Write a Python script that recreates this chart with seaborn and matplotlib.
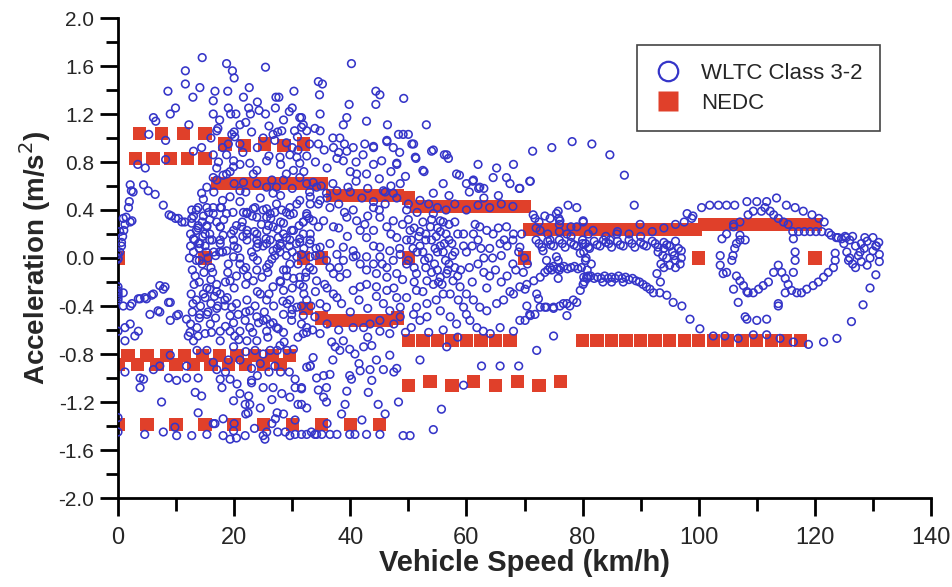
import matplotlib
matplotlib.use("Agg")
import matplotlib.pyplot as plt
from matplotlib.lines import Line2D
from matplotlib.ticker import MultipleLocator, FormatStrFormatter
import seaborn as sns
import pandas as pd

# ---------------- NEDC (speed km/h, acceleration m/s^2) ----------------
nedc_speed_pos = [3.75, 7.5, 11.25, 15, 3, 6, 9, 12, 15, 18.4, 21.8, 25.2, 28.6, 32,
                  17.2, 19.5, 21.7, 23.9, 26.1, 28.4, 30.6, 32.8, 35,
                  36.9, 38.75, 40.6, 42.5, 44.4, 46.25, 48.1, 50,
                  51.5, 53.1, 54.6, 56.2, 57.7, 59.2, 60.8, 62.3, 63.8, 65.4, 66.9, 68.5, 70]
nedc_acc_pos = [1.04, 1.04, 1.04, 1.04, 0.83, 0.83, 0.83, 0.83, 0.83, 0.95, 0.94, 0.95, 0.94, 0.95,
                0.62, 0.62, 0.62, 0.62, 0.62, 0.62, 0.62, 0.62, 0.62,
                0.52, 0.52, 0.52, 0.52, 0.52, 0.52, 0.52, 0.50,
                0.43, 0.43, 0.43, 0.43, 0.43, 0.43, 0.43, 0.43, 0.43, 0.43, 0.43, 0.43, 0.43]
nedc_speed_eudc = [70.9, 71.7, 72.6, 73.5, 74.3, 75.2, 76.1, 76.9, 77.8, 78.6, 79.5, 80.4, 81.2, 82.1,
                   83.0, 83.8, 84.7, 85.5, 86.4, 87.3, 88.1, 89.0, 89.9, 90.7, 91.6, 92.4, 93.3,
                   94.2, 95.0, 95.9, 96.8, 97.6, 98.5, 99.4,
                   101, 102, 103, 104, 105, 106, 107, 108, 109, 110, 111, 112, 113, 114, 115,
                   116, 117, 118, 119, 120]
nedc_acc_eudc = [0.24] * 34 + [0.28] * 20
nedc_speed_zero = [0, 15, 32, 35, 50, 70, 100, 120]
nedc_acc_zero = [0, 0, 0, 0, 0, 0, 0, 0]
nedc_speed_neg = [0, 3.3, 6.7, 10, 13, 16, 19, 22, 25, 28,
                  1.7, 5, 8.3, 11.5, 14.5, 17.5, 20.5, 23.5, 26.5, 29.5,
                  32.4, 35, 36.9, 38.75, 40.6, 42.5, 44.4, 46.25, 48.1,
                  50, 52.5, 55, 57.5, 60, 62.5, 65, 67.5,
                  50, 53.75, 57.5, 61.25, 65, 68.75, 72.5, 76.25,
                  80, 82.5, 85, 87.5, 90, 92.5, 95, 97.5, 100, 102.5, 105, 107.5, 110, 112.5, 115, 117.5,
                  0, 5, 10, 15, 20, 25, 30, 35, 40, 45]
nedc_acc_neg = [-0.89] * 10 + [-0.81] * 10 + \
               [-0.42, -0.50, -0.52, -0.52, -0.52, -0.52, -0.52, -0.52, -0.50] + \
               [-0.69] * 8 + \
               [-1.06, -1.03, -1.06, -1.03, -1.06, -1.03, -1.06, -1.03] + \
               [-0.69] * 16 + \
               [-1.39] * 10

# ---------------- WLTC Class 3-2 (speed km/h, acceleration m/s^2) ----------------
wltc_start = [(0, 0.03), (0, -0.01), (0.3, 0.05), (0, 0.0), (0.6, 0.10), (0.8, 0.18), (1.0, 0.23), (1.2, 0.28),
              (0.3, 0.22), (0.6, 0.13), (0.9, 0.33), (2.1, 0.30), (1.4, 0.34), (2.4, 0.31), (1.8, 0.42), (1.95, 0.47),
              (2.1, 0.61), (2.3, 0.56), (2.6, 0.55), (4.4, 0.61), (5.2, 0.56), (6.4, 0.53), (3.4, 0.78), (4.7, 0.75),
              (5.3, 1.03), (6.1, 1.17), (6.5, 1.14), (8.2, 0.98), (8.2, 0.82), (9.0, 1.20), (9.9, 1.25), (8.6, 1.39),
              (11.6, 1.56), (11.6, 1.45), (12.9, 1.34), (12.2, 1.11), (13.0, 0.89), (14.1, 1.42), (14.5, 1.67),
              (7.8, 0.44), (8.8, 0.36), (9.9, 0.33), (11.0, 0.30), (9.2, 0.35), (10.4, 0.33), (11.5, 0.30),
              (0, -0.24), (0, -0.29), (0, -0.33), (0, -0.35), (0.9, -0.29), (0, -0.27), (0, -0.31), (0.9, -0.40),
              (2.1, -0.40), (3.5, -0.34), (4.6, -0.33), (5.8, -0.31), (7.2, -0.23), (7.8, -0.26), (2.4, -0.38),
              (3.8, -0.34), (4.9, -0.34), (6.1, -0.30), (8.1, -0.24), (9.0, -0.37), (5.5, -0.47), (6.9, -0.44),
              (9.0, -0.52), (10.4, -0.47), (11.8, -0.51), (7.2, -0.45), (8.7, -0.37), (10.1, -0.48),
              (0, -0.61), (1.2, -0.58), (2.1, -0.55), (2.9, -0.65), (3.5, -0.61), (1.2, -0.69), (1.2, -0.95),
              (3.8, -1.00), (4.4, -1.01), (3.8, -1.08), (7.5, -1.20), (8.7, -1.00), (10.1, -1.02), (11.8, -1.00),
              (13.8, -1.00), (13.3, -1.12), (14.4, -1.15), (13.8, -1.29), (0, -1.33), (0, -1.45), (4.6, -1.47),
              (7.8, -1.45), (9.8, -1.41), (10.1, -1.48), (12.7, -1.48), (15.3, -1.47), (16.4, -1.38),
              (9.0, -0.81), (6.1, -0.93), (7.2, -0.90), (11.8, -0.90), (13.0, -0.69), (13.6, -0.77),
              (15.3, -0.77), (16.4, -0.87)]

wltc_low_top = [(18.7, 1.62), (19.7, 1.56), (20.0, 1.50), (25.4, 1.59), (18.9, 1.39), (16.7, 1.39), (16.4, 1.31),
                (22.6, 1.42), (21.6, 1.34), (27.2, 1.34), (27.7, 1.34), (30.3, 1.39), (30.0, 1.25), (27.1, 1.25),
                (16.4, 1.20), (19.4, 1.20), (20.3, 1.20), (22.8, 1.20), (24.3, 1.23), (25.4, 1.20), (31.6, 1.17),
                (21.0, 1.11), (17.2, 1.08), (17.0, 1.06), (19.6, 1.03), (20.1, 1.01), (28.2, 1.06), (26.7, 1.03),
                (30.4, 1.06), (31.6, 1.09), (30.9, 1.01), (14.4, 0.92), (22.5, 1.25), (24.0, 1.30), (26.0, 1.10),
                (28.5, 1.15), (19.0, 1.25), (17.5, 1.15), (23.0, 1.05), (25.0, 1.00), (21.0, 0.95), (18.0, 0.92),
                (27.0, 0.98), (29.0, 0.96), (20.0, 1.05), (16.0, 1.00), (29.5, 1.22), (27.5, 1.05), (22.0, 1.13),
                (16.4, 0.86), (17.3, 0.80), (18.7, 0.86), (19.9, 0.81), (21.0, 0.78), (19.3, 0.72), (18.1, 0.69),
                (16.4, 0.67), (15.3, 0.59), (14.4, 0.54), (14.7, 0.49), (17.0, 0.65), (18.7, 0.70), (19.9, 0.76),
                (22.7, 0.79), (23.9, 0.73), (23.3, 0.70), (21.6, 0.63), (21.0, 0.56), (25.6, 0.81), (27.9, 0.84),
                (29.6, 0.86), (30.8, 0.84), (31.3, 0.79), (30.2, 0.73), (29.0, 0.70), (28.5, 0.65), (27.3, 0.59),
                (26.7, 0.54), (31.3, 0.67), (33.6, 0.63), (34.2, 0.59), (23.9, 0.62), (25.6, 0.59), (19.3, 0.51),
                (21.0, 0.47), (22.2, 0.37), (23.3, 0.41), (25.0, 0.40), (26.2, 0.37), (27.3, 0.45), (29.0, 0.38),
                (30.2, 0.37), (31.3, 0.48), (33.1, 0.45), (33.6, 0.31), (31.9, 0.30), (30.2, 0.23), (28.5, 0.20),
                (25.6, 0.23), (23.9, 0.20), (22.2, 0.23), (19.9, 0.23), (17.6, 0.26), (15.3, 0.26), (13.5, 0.23),
                (13.0, 0.16), (14.1, 0.12), (15.8, 0.15), (17.6, 0.15), (19.9, 0.15), (22.2, 0.15), (23.9, 0.15),
                (26.2, 0.15), (27.9, 0.12), (29.6, 0.15), (31.3, 0.16), (33.1, 0.20), (34.5, 0.26), (16.4, 0.37),
                (17.8, 0.42), (15.3, 0.42), (13.5, 0.40), (12.7, 0.33)]

wltc_low_mid = [(12.7, 0.40), (13.8, 0.42), (14.7, 0.35), (12.7, 0.29), (13.8, 0.27), (15.3, 0.27), (16.4, 0.42),
                (17.6, 0.42), (18.7, 0.37), (17.0, 0.30), (17.6, 0.26), (15.8, 0.20), (18.1, 0.19), (20.4, 0.27),
                (21.3, 0.26), (22.2, 0.20), (23.6, 0.42), (25.6, 0.41), (23.9, 0.34), (25.6, 0.34), (21.6, 0.38),
                (22.2, 0.38), (27.0, 0.38), (28.2, 0.40), (29.6, 0.42), (30.8, 0.45), (25.9, 0.27), (26.7, 0.26),
                (27.6, 0.17), (29.0, 0.17), (28.5, 0.29), (29.9, 0.23), (31.9, 0.30), (31.9, 0.20), (31.3, 0.13),
                (32.5, 0.35),
                (17.6, 0.12), (18.7, 0.06), (19.9, 0.01), (21.0, -0.05), (21.6, -0.10), (20.4, -0.15), (19.3, -0.19),
                (17.0, -0.22), (15.8, -0.26), (17.6, -0.30), (18.4, -0.35), (19.6, -0.41), (20.7, -0.47),
                (21.9, -0.52), (22.2, -0.35), (22.7, -0.44), (23.9, -0.49), (25.0, -0.52), (26.2, -0.55),
                (27.3, -0.58), (24.5, -0.30), (25.6, -0.35), (26.7, -0.24), (27.9, -0.19), (28.5, -0.10),
                (29.6, -0.05), (30.8, 0.01), (31.6, 0.03), (23.9, -0.10), (24.8, -0.16), (25.6, -0.08),
                (26.5, -0.01), (26.7, 0.06), (25.6, 0.12), (23.9, 0.09), (23.3, 0.01), (23.3, -0.19), (27.9, 0.05),
                (29.0, 0.02), (30.2, -0.17), (31.3, -0.16), (31.9, -0.24), (28.5, -0.27), (29.6, -0.35),
                (30.8, -0.41), (31.9, -0.48), (32.5, -0.58), (28.5, -0.47), (29.9, -0.52),
                (12.5, 0.10), (13.0, 0.05), (13.5, -0.02), (14.0, 0.08), (14.5, -0.05), (15.0, 0.10), (15.5, 0.00),
                (16.0, -0.08), (16.5, 0.05), (12.8, -0.10), (13.3, -0.15), (14.0, -0.20), (14.8, -0.12),
                (15.3, -0.25), (16.0, -0.18), (12.5, 0.20), (13.8, 0.25), (15.0, 0.20), (16.2, 0.15),
                (12.6, -0.30), (13.5, -0.35), (14.2, -0.40), (15.0, -0.33), (16.0, -0.38), (12.8, -0.45),
                (14.0, -0.50), (15.5, -0.45), (13.0, 0.35), (14.5, 0.30), (16.8, 0.02), (17.0, -0.28),
                (12.3, 0.00), (13.9, 0.12), (15.8, 0.32), (14.6, 0.18), (13.1, -0.22), (15.9, -0.55), (12.5, -0.55),
                (18.0, 0.05), (19.0, -0.05), (20.0, 0.10), (21.0, 0.00), (22.0, -0.08), (23.0, 0.05), (24.0, -0.02),
                (25.0, 0.10), (26.0, -0.05), (27.0, 0.02), (28.0, 0.10), (29.0, -0.10), (30.0, 0.05), (31.0, -0.05),
                (32.0, 0.08), (33.0, -0.08), (34.0, 0.02), (18.5, -0.20), (20.0, -0.25), (22.0, -0.22),
                (24.0, -0.28), (26.0, -0.30), (28.0, -0.20), (30.0, -0.25), (32.0, -0.30), (34.0, -0.28),
                (19.5, 0.20), (21.5, 0.18), (23.5, 0.22), (25.5, 0.16), (27.5, 0.24), (29.5, 0.10), (33.0, 0.12)]

wltc_low_neg = [(14.1, -0.47), (15.3, -0.47), (17.0, -0.42), (18.4, -0.40), (19.3, -0.48), (19.9, -0.54),
                (21.0, -0.61), (22.7, -0.58), (24.2, -0.54), (25.6, -0.51), (26.7, -0.54), (27.6, -0.59),
                (28.5, -0.62), (25.6, -0.61), (23.9, -0.69), (22.2, -0.69), (20.1, -0.65), (19.3, -0.61),
                (17.6, -0.61), (16.1, -0.62), (15.0, -0.63), (13.8, -0.65), (12.4, -0.62), (12.1, -0.65),
                (17.6, -0.69), (19.9, -0.74), (23.6, -0.77), (25.0, -0.80), (26.2, -0.77), (27.4, -0.77),
                (27.9, -0.73), (17.0, -0.93), (17.6, -1.01), (19.3, -1.01), (17.9, -1.08), (19.9, -1.19),
                (16.7, -1.38), (18.1, -1.34), (18.1, -1.48), (19.9, -1.44), (19.3, -1.51), (20.4, -1.50),
                (21.9, -1.48), (23.0, -1.02), (23.0, -1.04), (21.0, -1.13), (21.9, -1.22), (22.7, -1.22),
                (22.4, -1.29), (25.0, -1.08), (26.7, -1.08), (28.2, -1.13), (25.0, -1.48), (25.6, -1.45),
                (25.3, -1.51), (26.5, -1.38), (27.1, -1.34), (27.4, -1.29), (28.8, -1.45), (29.6, -1.48),
                (30.5, -1.47), (31.6, -1.47), (33.3, -1.45), (33.9, -1.47), (30.5, -1.08), (31.6, -1.09),
                (29.6, -1.16), (31.0, -1.22), (30.5, -1.01), (33.1, -0.90), (33.6, -0.83), (29.1, -0.77),
                (30.2, -0.76), (29.1, -0.38), (29.9, -0.47), (31.6, -0.40), (32.5, -0.35), (21.0, -0.85),
                (23.0, -0.92), (24.5, -0.88), (26.0, -0.95), (19.0, -0.85), (28.0, -0.95), (22.0, -0.78)]

wltc_low_fill = [(18.2, 0.32), (19.8, 0.38), (21.4, 0.30), (23.1, 0.35), (24.7, 0.28), (26.3, 0.33), (28.0, 0.30),
                 (29.6, 0.36), (31.2, 0.27), (32.9, 0.33), (17.5, 0.05), (18.9, -0.12), (20.6, 0.08), (22.3, -0.15),
                 (24.1, 0.12), (25.8, -0.12), (27.4, 0.08), (29.1, -0.15), (30.7, 0.12), (32.4, -0.12), (34.1, 0.08),
                 (17.2, -0.40), (18.8, -0.33), (20.4, -0.38), (22.0, -0.45), (23.6, -0.40), (25.2, -0.45),
                 (26.8, -0.40), (28.4, -0.36), (30.0, -0.43), (31.6, -0.55), (33.2, -0.40), (16.8, -0.50),
                 (18.5, -0.57), (20.8, -0.68), (23.2, -0.62), (25.8, -0.66), (28.6, -0.70), (31.0, -0.66),
                 (33.5, -0.60), (16.5, 0.55), (18.0, 0.48), (20.0, 0.62), (22.0, 0.55), (24.5, 0.50), (26.5, 0.65),
                 (28.0, 0.52), (30.0, 0.58), (32.5, 0.62), (34.5, 0.45), (17.0, 0.75), (19.0, 0.95), (21.5, 0.88),
                 (24.0, 0.92), (26.0, 0.85), (28.0, 0.78), (30.0, 0.92), (32.5, 0.85), (34.5, 0.95), (18.5, -0.95),
                 (20.5, -1.05), (22.5, -1.15), (24.5, -1.25), (26.5, -1.18), (28.5, -1.30), (30.5, -1.35),
                 (32.5, -1.25), (34.5, -1.10), (24.0, -0.98), (27.0, -0.90), (29.5, -0.95), (20.0, -1.38),
                 (23.5, -1.42), (27.5, -1.45), (22.0, -1.30), (14.0, -0.02), (15.2, 0.05), (16.3, -0.12),
                 (13.2, 0.15), (14.7, -0.30), (16.6, -0.32), (12.9, -0.38), (15.6, 0.38), (13.6, -0.58)]

wltc_medium = [(40.2, 1.62), (34.5, 1.47), (35.2, 1.45), (34.7, 1.36), (44.4, 1.39), (45.1, 1.36), (49.2, 1.33),
               (39.8, 1.28), (44.4, 1.28), (31.3, 1.17), (31.9, 1.11), (34.8, 1.20), (39.4, 1.17), (38.8, 1.11),
               (42.8, 1.14), (46.4, 1.11), (53.1, 1.11), (48.3, 1.03), (49.1, 1.03), (50.0, 1.03), (32.5, 1.06),
               (33.9, 1.08), (34.8, 1.06), (38.2, 1.00), (42.2, 0.86), (44.0, 0.92), (46.3, 0.97), (47.4, 0.92),
               (50.9, 0.95), (54.0, 0.89), (56.2, 0.86), (56.9, 0.83), (37.1, 0.92), (38.8, 0.81), (40.5, 0.92),
               (37.7, 0.83), (39.4, 0.89), (45.4, 0.81), (48.0, 0.78), (51.3, 0.83), (52.7, 0.72), (58.8, 0.69),
               (61.1, 0.64), (62.1, 0.58), (65.2, 0.75), (68.1, 0.78), (64.6, 0.67), (66.9, 0.67), (69.1, 0.58),
               (71.0, 0.64), (32.5, 0.37), (35.4, 0.31), (37.1, 0.26), (39.4, 0.34), (41.1, 0.31), (41.7, 0.23),
               (42.8, 0.17), (44.0, 0.23), (45.1, 0.34), (46.3, 0.26), (47.4, 0.31), (48.0, 0.17), (49.7, 0.15),
               (50.3, 0.23), (33.1, 0.15), (34.8, 0.09), (38.8, 0.09), (40.5, 0.06), (45.1, 0.09), (46.8, 0.06),
               (59.5, 0.20), (61.2, 0.20), (62.3, 0.26), (63.5, 0.23), (64.6, 0.20), (65.8, 0.12), (66.9, 0.26),
               (68.1, 0.20), (69.2, 0.09), (54.3, 0.54), (56.0, 0.62), (58.3, 0.70), (61.2, 0.65), (62.3, 0.59),
               (52.5, 0.73), (51.2, 0.84), (50.6, 0.95), (54.3, 0.90), (56.6, 0.86), (46.3, 0.98), (48.0, 0.79),
               (44.0, 0.93), (42.8, 0.70), (41.1, 0.70), (39.6, 0.59), (37.7, 0.56), (35.9, 0.54), (34.8, 0.48),
               (33.1, 0.51), (36.5, 0.42), (44.0, 0.42), (45.7, 0.56), (47.4, 0.54), (48.6, 0.62), (49.7, 0.40),
               (54.3, 0.37), (55.5, 0.31),
               (36.0, 0.50), (38.0, 0.45), (40.0, 0.55), (42.0, 0.50), (44.0, 0.47), (46.0, 0.55), (48.0, 0.50),
               (50.0, 0.45), (52.0, 0.48), (55.0, 0.42), (58.0, 0.45), (60.0, 0.40), (62.0, 0.44), (64.0, 0.42),
               (66.0, 0.45), (68.0, 0.43), (45.0, 0.40), (47.0, 0.60), (35.0, 0.60), (33.0, 0.55),
               (37.0, 0.62), (41.0, 0.64), (43.0, 0.58), (39.0, 0.38), (57.0, 0.52), (60.5, 0.55), (63.0, 0.50),
               (32.0, 0.72), (34.0, 0.80), (35.5, 0.90), (36.0, 0.75), (38.0, 0.88), (40.0, 0.72), (41.0, 0.80),
               (42.5, 0.95), (44.0, 0.78), (45.0, 0.66), (47.0, 0.72), (48.5, 0.88), (49.5, 0.68), (33.0, 0.95),
               (37.0, 1.00), (39.0, 0.95), (31.0, 0.90)]

wltc_medium_neg = [(31.3, -0.22), (32.3, -0.16), (33.6, -0.10), (34.2, -0.19), (35.6, -0.22), (36.5, -0.08),
                   (37.1, -0.13), (38.2, -0.16), (39.4, -0.13), (37.1, -0.30), (37.7, -0.33), (34.8, -0.38),
                   (35.9, -0.41), (33.9, -0.49), (32.5, -0.62), (32.5, -0.91), (33.1, -0.90), (34.2, -1.00),
                   (35.4, -0.98), (36.5, -0.97), (35.9, -1.08), (35.4, -1.16), (35.9, -1.20), (31.6, -1.08),
                   (31.6, -1.22), (39.4, -1.11), (39.1, -1.22), (39.9, -0.98), (40.2, -1.01), (41.7, -0.94),
                   (43.4, -0.93), (45.7, -0.93), (43.7, -1.02), (43.1, -1.12), (44.8, -1.22), (39.9, -0.76),
                   (40.8, -0.80), (42.3, -0.74), (43.7, -0.73), (36.8, -0.70), (37.4, -0.74), (38.2, -0.77),
                   (38.8, -0.69), (46.8, -0.81), (48.3, -1.20), (34.8, -0.63), (31.9, -0.63),
                   (32.5, -1.47), (34.2, -1.47), (35.1, -1.47), (36.5, -1.47), (37.7, -1.47), (39.9, -1.47),
                   (40.8, -1.47), (42.8, -1.47), (45.1, -1.47), (49.1, -1.48), (50.3, -1.48), (54.3, -1.43),
                   (55.7, -1.26), (59.5, -1.06), (62.6, -0.90), (65.8, -0.90), (69.0, -0.90), (72.1, -0.77),
                   (75.0, -0.65),
                   (51.4, -0.13), (53.2, -0.19), (54.3, -0.22), (55.5, -0.16), (56.6, -0.13), (57.7, -0.19),
                   (58.9, -0.24), (60.0, -0.30), (61.2, -0.35), (62.3, -0.41), (63.5, -0.44), (65.2, -0.38),
                   (66.4, -0.35), (68.1, -0.30), (69.2, -0.24), (70.4, -0.22), (71.6, -0.19), (72.7, -0.16),
                   (56.0, -0.30), (57.2, -0.30), (58.6, -0.35), (59.5, -0.41), (60.0, -0.47), (60.6, -0.52),
                   (61.8, -0.58), (62.9, -0.61), (64.1, -0.63), (65.8, -0.58), (68.1, -0.61), (69.2, -0.52),
                   (70.9, -0.47), (72.7, -0.41), (73.8, -0.41), (75.0, -0.41), (76.1, -0.40), (77.3, -0.38),
                   (78.4, -0.35), (79.6, -0.27), (80.1, -0.22), (80.7, -0.16), (54.8, -0.35), (53.2, -0.38),
                   (51.4, -0.41), (48.6, -0.41), (50.9, -0.47), (52.0, -0.52), (53.2, -0.49), (55.5, -0.44),
                   (57.2, -0.49), (58.3, -0.55), (51.4, -0.27), (49.7, -0.33), (48.0, -0.33), (46.3, -0.27),
                   (44.5, -0.24), (42.8, -0.22), (41.7, -0.24), (40.5, -0.27), (45.7, -0.38), (46.8, -0.44),
                   (48.6, -0.49), (45.1, -0.52), (43.4, -0.55), (42.3, -0.58), (45.1, -0.61), (46.8, -0.63),
                   (33.1, 0.01), (34.8, 0.03), (35.9, -0.02), (37.7, 0.03), (38.8, -0.02), (40.5, 0.01),
                   (41.7, -0.05), (42.8, 0.01), (44.0, -0.05), (45.1, 0.01), (46.3, -0.08), (47.4, -0.02),
                   (48.6, 0.03), (49.7, -0.05), (42.8, -0.10), (44.5, -0.13), (46.3, -0.16), (48.0, -0.13),
                   (51.0, 0.25), (52.0, 0.10), (53.0, 0.20), (53.5, 0.00), (54.0, 0.15), (54.5, -0.05),
                   (55.0, 0.25), (55.5, 0.10), (56.0, 0.05), (56.5, 0.20), (57.0, -0.05), (57.5, 0.12),
                   (52.5, 0.30), (54.0, 0.32), (56.0, 0.30), (51.5, 0.05), (50.5, 0.15), (55.0, -0.10),
                   (53.0, -0.08), (57.0, 0.28), (58.0, 0.05), (58.5, 0.20), (52.0, 0.22), (54.8, 0.18),
                   (56.2, 0.12), (50.0, -0.02), (51.0, -0.20), (52.5, -0.28), (55.8, -0.22), (58.0, -0.08),
                   (60.0, 0.05), (61.0, 0.10), (62.0, -0.05), (63.0, 0.00), (64.0, 0.08), (65.0, -0.10),
                   (66.0, 0.02), (67.0, 0.10), (68.0, -0.05), (69.0, 0.05), (62.0, 0.15), (64.0, -0.15),
                   (66.0, -0.20), (68.0, 0.15), (59.0, -0.10), (61.0, -0.20), (63.0, -0.12), (67.0, -0.15),
                   (70.0, 0.00), (70.5, -0.05), (56.6, -0.74), (52.0, -0.85), (47.5, -0.95)]

wltc_medium_fill = [(36.5, 0.12), (38.0, -0.08), (39.5, 0.18), (41.0, 0.02), (42.5, 0.28), (44.0, 0.10),
                    (45.5, -0.05), (47.0, 0.20), (48.5, 0.08), (50.0, 0.32), (36.0, -0.25), (38.5, -0.38),
                    (40.0, -0.45), (41.5, -0.35), (43.0, -0.42), (44.5, -0.32), (47.5, -0.25), (49.0, -0.18),
                    (36.0, -0.55), (38.0, -0.60), (40.5, -0.58), (43.0, -0.66), (47.5, -0.55), (49.5, -0.62),
                    (50.5, -0.58), (53.5, -0.62), (56.0, -0.60), (58.5, -0.66), (37.0, -0.85), (41.5, -0.88),
                    (44.5, -0.85), (48.0, -0.92), (38.5, -1.30), (42.0, -1.35), (46.0, -1.30), (36.0, -1.38),
                    (51.0, -0.08), (52.5, 0.05), (54.0, -0.12), (55.5, 0.22), (57.0, 0.15), (58.5, -0.15),
                    (59.5, 0.10), (53.0, 0.15), (55.0, 0.05), (56.8, -0.10), (51.8, 0.18), (58.0, 0.30),
                    (60.5, -0.08), (62.5, 0.08), (64.5, 0.00), (66.5, 0.15), (68.5, -0.10), (61.5, 0.28),
                    (63.5, -0.25), (65.5, 0.25), (67.5, -0.28), (69.5, 0.20), (60.0, 0.62), (63.0, 0.58),
                    (65.5, 0.52), (67.5, 0.62), (62.0, 0.78), (38.0, 0.25), (40.5, 0.40), (43.0, 0.35),
                    (46.0, 0.45), (49.0, 0.28), (51.5, 0.38), (53.5, 0.45), (56.5, 0.40), (52.8, -0.02),
                    (54.6, 0.08), (56.4, -0.02), (53.8, 0.26), (55.2, -0.20), (57.6, 0.02), (50.8, 0.08)]

wltc_high = [(71.4, 0.89), (74.7, 0.92), (78.2, 0.97), (81.6, 0.95), (84.7, 0.86), (87.2, 0.69), (70.9, 0.64),
             (69.2, 0.58), (77.5, 0.44), (79.0, 0.42), (88.9, 0.44), (75.8, 0.39), (75.9, 0.33), (74.4, 0.33),
             (71.8, 0.33), (80.1, 0.30), (89.9, 0.28), (98.8, 0.33), (97.5, 0.30), (72.7, 0.23), (74.4, 0.15),
             (75.5, 0.37), (76.1, 0.31), (77.3, 0.20), (79.0, 0.26), (80.1, 0.31), (81.8, 0.23), (83.6, 0.15),
             (84.7, 0.15), (85.9, 0.20), (71.5, 0.36), (72.5, 0.30), (73.5, 0.35), (76.0, 0.28), (78.0, 0.26),
             (72.0, 0.25), (74.0, 0.20), (76.0, 0.22), (78.0, 0.18), (81.0, 0.20), (84.0, 0.18), (86.0, 0.22),
             (88.0, 0.20), (90.0, 0.18), (92.0, 0.22), (94.0, 0.25), (96.0, 0.28),
             (72, 0.15), (73, 0.09), (74, 0.14), (75, 0.10), (76, 0.15), (77, 0.09), (78, 0.13), (79, 0.10),
             (80, 0.15), (81, 0.09), (82, 0.14), (83, 0.10), (84, 0.13), (85, 0.09), (86, 0.14), (87, 0.10),
             (88, 0.15), (89, 0.09), (90, 0.13), (91, 0.10), (92, 0.14), (93, 0.09), (94, 0.13), (95, 0.10),
             (96, 0.14), (72.5, 0.12), (74.5, 0.11), (76.5, 0.12), (78.5, 0.11), (80.5, 0.12), (82.5, 0.11),
             (84.5, 0.12), (86.5, 0.11), (88.5, 0.12), (90.5, 0.11), (92.5, 0.12), (94.5, 0.11),
             (73.2, 0.06), (73.8, -0.02), (75.5, 0.01), (75.8, -0.02), (73.5, -0.12), (74.7, -0.10),
             (75.8, -0.17), (74.4, -0.08), (75.0, -0.07), (75.6, -0.09), (76.2, -0.08), (76.8, -0.07),
             (77.4, -0.09), (78.0, -0.08), (78.6, -0.07), (79.2, -0.09), (79.8, -0.08), (74.0, -0.10),
             (76.0, -0.10),
             (80.2, -0.16), (80.8, -0.17), (81.4, -0.15), (82.0, -0.17), (82.6, -0.16), (83.2, -0.17),
             (83.8, -0.15), (84.4, -0.17), (85.0, -0.16), (85.6, -0.17), (86.2, -0.15), (86.8, -0.17),
             (87.4, -0.16), (88.0, -0.18), (88.6, -0.17), (89.2, -0.19), (89.8, -0.20), (90.4, -0.22),
             (91.0, -0.24), (83.5, -0.20), (85.0, -0.20), (87.0, -0.20),
             (80.0, 0.12), (80.2, 0.05), (80.5, -0.02), (80.8, -0.10), (81.0, -0.15), (80.3, -0.20),
             (81.2, 0.08), (80.6, 0.00), (79.6, 0.04), (81.5, -0.05),
             (93.0, 0.05), (93.5, -0.05), (94.0, 0.08), (94.5, 0.00), (95.0, -0.06), (95.5, 0.05), (96.0, -0.02),
             (96.5, 0.08), (97.0, 0.00), (94.0, -0.08), (95.0, 0.10), (96.0, -0.08), (97.0, 0.06), (93.8, 0.02),
             (95.8, 0.02), (96.8, -0.05), (92.8, -0.13), (93.4, -0.20),
             (91.6, -0.26), (92.2, -0.29), (93.3, -0.29), (94.5, -0.31), (95.6, -0.37), (97.1, -0.40),
             (98.5, -0.51), (100.2, -0.59), (102.5, -0.65),
             (69.8, -0.12), (70.1, -0.26), (70.4, -0.40), (72.1, -0.30), (72.4, -0.34), (73.5, -0.41),
             (75.0, -0.42), (76.7, -0.38), (77.8, -0.40), (79.0, -0.37), (71.0, -0.48), (70.1, -0.52),
             (71.8, -0.47), (77.3, -0.48)]

wltc_extra_high = [(100.5, 0.42), (101.9, 0.44), (103.4, 0.44), (104.8, 0.44), (106.2, 0.44), (108.3, 0.47),
                   (110.0, 0.47), (111.7, 0.47), (113.4, 0.50), (115.1, 0.44), (116.6, 0.42), (118.0, 0.39),
                   (119.5, 0.36), (120.7, 0.33), (121.6, 0.30),
                   (106.0, 0.28), (107.1, 0.30), (108.5, 0.36), (109.4, 0.39), (110.8, 0.39), (111.4, 0.42),
                   (112.3, 0.39), (112.9, 0.36), (113.7, 0.33), (114.6, 0.30), (115.4, 0.28),
                   (116.2, 0.22), (117.2, 0.22), (118.2, 0.22), (119.2, 0.22), (120.2, 0.22), (121.2, 0.22),
                   (122.4, 0.21), (122.8, 0.19), (123.7, 0.17), (124.6, 0.16), (125.4, 0.17),
                   (104.0, 0.16), (104.8, 0.20), (106.0, 0.26), (107.1, 0.19), (108.0, 0.15), (116.3, 0.16),
                   (98.0, 0.37), (99.0, 0.35),
                   (103.7, 0.02), (103.7, -0.06), (104.2, -0.13), (104.8, -0.12), (105.7, -0.02), (105.9, 0.02),
                   (106.2, 0.08), (106.5, 0.12), (107.1, 0.15), (106.5, -0.15), (107.1, -0.19), (107.7, -0.23),
                   (108.5, -0.29), (109.4, -0.29), (110.3, -0.26), (111.1, -0.23), (112.0, -0.20), (106.0, -0.26),
                   (106.8, -0.37), (112.9, -0.12), (113.7, -0.06), (114.3, -0.12), (114.9, -0.17), (115.4, -0.22),
                   (114.9, -0.29), (116.0, -0.27), (116.9, -0.29), (117.7, -0.29), (118.6, -0.26), (119.7, -0.23),
                   (120.6, -0.20), (121.5, -0.16), (122.3, -0.12), (123.2, -0.08), (123.5, -0.02), (123.5, 0.04),
                   (116.6, 0.05), (116.6, -0.02), (116.3, -0.12), (113.7, -0.38), (108.3, -0.51), (110.0, -0.52),
                   (111.7, -0.51), (108.0, -0.49), (104.5, -0.65), (106.8, -0.67), (109.4, -0.64), (111.7, -0.64),
                   (114.0, -0.67), (116.3, -0.70), (118.9, -0.72), (121.5, -0.70), (123.8, -0.67), (126.3, -0.53),
                   (128.3, -0.39), (129.5, -0.25), (130.5, -0.14), (131.1, -0.03), (131.1, 0.03), (130.6, 0.10),
                   (108.3, -0.28), (113.7, -0.40),
                   (125.0, 0.12), (125.5, 0.05), (126.0, 0.00), (126.5, -0.05), (127.0, 0.10), (127.5, 0.02),
                   (128.0, -0.03), (128.5, 0.08), (129.0, 0.14), (129.5, 0.00), (130.0, 0.06), (126.0, 0.15),
                   (127.0, -0.08), (128.0, 0.12), (125.8, -0.02), (127.8, 0.05), (129.0, -0.06), (130.5, 0.10),
                   (131.0, 0.13), (130.0, 0.17), (128.6, 0.17), (126.5, 0.18), (125.2, 0.18), (124.0, 0.17)]

wltc_groups = [wltc_start, wltc_low_top, wltc_low_mid, wltc_low_neg, wltc_low_fill, wltc_medium,
               wltc_medium_neg, wltc_medium_fill, wltc_high, wltc_extra_high]

# ---------------- build tables ----------------
wltc_pts = [p for g in wltc_groups for p in g]
wltc = pd.DataFrame(wltc_pts, columns=["speed", "acc"])
nedc = pd.DataFrame({
    "speed": nedc_speed_pos + nedc_speed_eudc + nedc_speed_zero + nedc_speed_neg,
    "acc": nedc_acc_pos + nedc_acc_eudc + nedc_acc_zero + nedc_acc_neg,
})

BLUE = "#3535C8"
RED = "#E0402A"

sns.set_style("ticks")
plt.rcParams["font.family"] = ["Liberation Sans", "DejaVu Sans"]

fig = plt.figure(figsize=(9.52, 5.87), dpi=100)
ax = fig.add_axes([118 / 952, 1 - 498 / 587, (931 - 118) / 952, (498 - 18) / 587])

sns.scatterplot(data=nedc, x="speed", y="acc", marker="s", s=92, color=RED,
                edgecolor="none", linewidth=0, ax=ax, zorder=2, legend=False)
sns.scatterplot(data=wltc, x="speed", y="acc", marker="o", s=30, facecolor="none",
                edgecolor=BLUE, linewidth=1.15, ax=ax, zorder=3, legend=False)

ax.set_xlim(0, 140)
ax.set_ylim(-2.0, 2.0)
ax.xaxis.set_major_locator(MultipleLocator(20))
ax.xaxis.set_minor_locator(MultipleLocator(10))
ax.yaxis.set_major_locator(MultipleLocator(0.4))
ax.yaxis.set_minor_locator(MultipleLocator(0.2))
ax.yaxis.set_major_formatter(FormatStrFormatter("%.1f"))

for side in ["top", "right"]:
    ax.spines[side].set_visible(False)
for side in ["left", "bottom"]:
    ax.spines[side].set_linewidth(2.0)
    ax.spines[side].set_color("black")

ax.tick_params(axis="both", which="major", direction="out", length=13, width=2.0, color="black")
ax.tick_params(axis="both", which="minor", direction="out", length=9, width=2.0, color="black")
ax.tick_params(axis="y", labelsize=15, pad=4)
ax.tick_params(axis="x", labelsize=17, pad=8)
for lab in ax.get_xticklabels():
    lab.set_family(["Liberation Sans Narrow", "Liberation Sans"])

ax.set_xlabel("Vehicle Speed (km/h)", fontsize=21, fontweight="bold",
              family=["Liberation Sans Narrow", "Liberation Sans"], labelpad=0)
ax.set_ylabel("Acceleration (m/s$^{2}$)", fontsize=20, fontweight="bold", labelpad=4)

handles = [Line2D([], [], linestyle="none", marker="o", markersize=14, markerfacecolor="none",
                  markeredgecolor=BLUE, markeredgewidth=1.6, label="WLTC Class 3-2"),
           Line2D([], [], linestyle="none", marker="s", markersize=15, markerfacecolor=RED,
                  markeredgecolor="none", label="NEDC")]
leg = ax.legend(handles=handles, loc="upper left", bbox_to_anchor=(0.638, 0.944), fontsize=16,
                frameon=True, fancybox=False, framealpha=1, edgecolor="#444444",
                borderpad=0.8, labelspacing=0.4, handletextpad=0.9, handlelength=1.2,
                borderaxespad=0)
leg.get_frame().set_linewidth(1.2)

fig.savefig("out.png", dpi=100)
